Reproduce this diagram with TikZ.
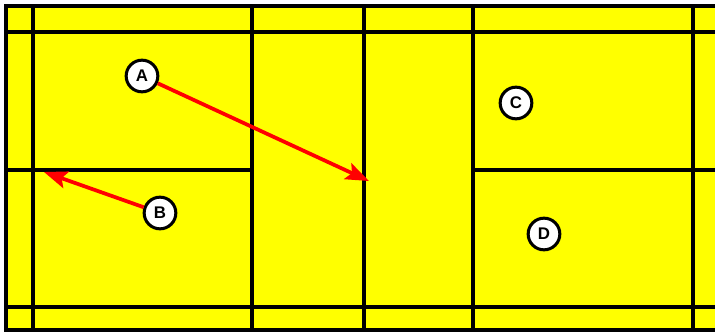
\documentclass[tikz,border=0pt]{standalone}
\usepackage{fontspec}
\setsansfont{Liberation Sans}
\usepackage{xcolor}
\definecolor{courtyellow}{RGB}{255,255,0}
\definecolor{shotred}{RGB}{255,0,0}
\usepackage{tikz}
\usetikzlibrary{calc,arrows.meta}

\begin{document}
\begin{tikzpicture}[x=0.03cm,y=-0.03cm,>={Stealth[length=7mm,width=5.2mm,inset=1.4mm]}]
			\tikzset{
				court/.style={line width=3.4pt},
				spot/.style={circle,draw,fill=white,line width=2.6pt,minimum size=0.95cm,inner sep=0pt,font=\sffamily\bfseries\Large},
				shot/.style={->,shotred,line width=3.2pt}
			}
			\useasboundingbox (0,0) rectangle (715,335);
			\fill[white] (0,0) rectangle (715,335);
			\fill[courtyellow] (6,6) rectangle (715,330);
			
			% outer lines
			\draw[court] (715,6)--(6,6)--(6,330)--(715,330);
			\draw[court] (6,32)--(715,32);
			\draw[court] (6,307)--(715,307);
			\foreach \x in {33,252,364,473,693}
				\draw[court] (\x,6)--(\x,330);
			% centre lines
			\draw[court] (6,170)--(252,170);
			\draw[court] (473,170)--(715,170);
			
			\coordinate (P) at (369,181);
			\coordinate (Q) at (44,172);
			
			\node[spot] (a) at (142,76) {A};
			\node[spot] (b) at (160,213) {B};
			\node[spot] (c) at (516,103) {C};
			\node[spot] (d) at (544,234) {D};
			
			\draw[shot] (a)--(P);
			\draw[shot] (b)--(Q);
		\end{tikzpicture}
\end{document}
